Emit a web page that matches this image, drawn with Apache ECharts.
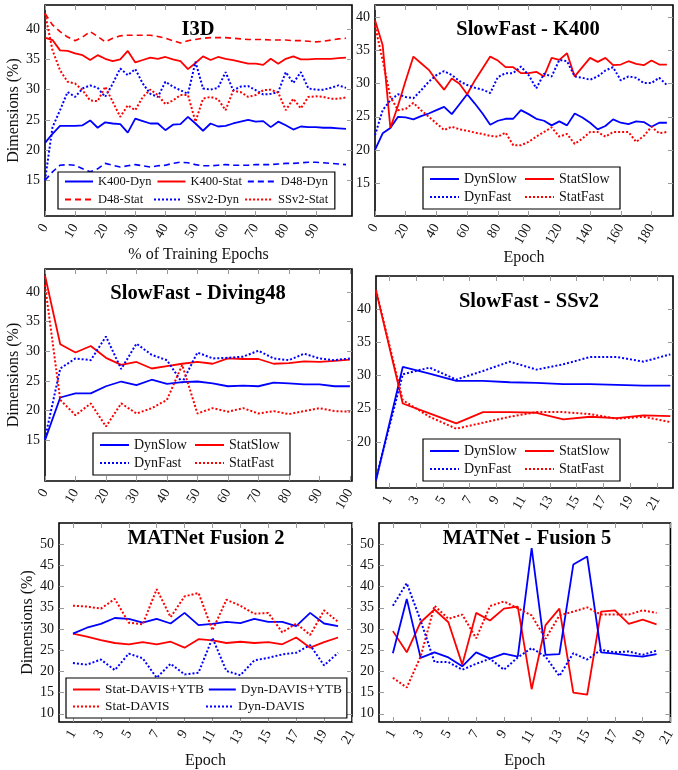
<!DOCTYPE html>
<html>
<head>
<meta charset="utf-8">
<script src="https://cdn.jsdelivr.net/npm/echarts@6/dist/echarts.min.js"></script>
<style>
  html, body { margin: 0; padding: 0; background: #fff; }
  #chart { width: 678px; height: 770px; }
</style>
</head>
<body>
<div id="chart"></div>
<script>
// ---- data ----
const i3dEpochs = [0, 2.5, 5, 7.5, 10, 12.5, 15, 17.5, 20, 22.5, 25, 27.5, 30, 32.5, 35, 37.5, 40, 42.5, 45, 47.5,
  50, 52.5, 55, 57.5, 60, 62.5, 65, 67.5, 70, 72.5, 75, 77.5, 80, 82.5, 85, 87.5, 90, 92.5, 95, 97.5, 100];
const i3dK400Dyn = [21.2, 22.7, 24.0, 24.0, 24.0, 24.1, 24.9, 23.7, 24.6, 24.4, 24.3, 22.9, 25.2, 24.8, 24.4, 24.4, 23.3, 24.2, 24.3, 25.5,
  24.4, 23.2, 24.4, 23.9, 24.0, 24.4, 24.7, 25.0, 24.7, 24.8, 23.8, 24.7, 24.1, 23.4, 23.9, 23.8, 23.8, 23.7, 23.7, 23.6, 23.5];
const i3dK400Stat = [38.6, 38.2, 36.5, 36.4, 36.0, 35.7, 34.9, 35.7, 35.1, 34.7, 35.0, 36.4, 34.5, 34.9, 35.3, 35.1, 35.4, 35.0, 34.7, 33.4,
  34.4, 35.5, 34.9, 35.4, 35.1, 34.9, 34.6, 34.3, 34.3, 34.1, 35.1, 34.3, 35.1, 35.5, 35.0, 35.0, 35.1, 35.1, 35.1, 35.2, 35.3];
const i3dD48Dyn = [15.0, 16.4, 17.5, 17.6, 17.5, 16.9, 16.4, 16.9, 17.8, 17.5, 17.2, 17.4, 17.6, 17.4, 17.2, 17.4, 17.5, 17.8, 18.0, 17.9,
  17.6, 17.4, 17.4, 17.5, 17.6, 17.5, 17.5, 17.5, 17.6, 17.6, 17.6, 17.7, 17.8, 17.8, 17.9, 18.0, 18.0, 17.9, 17.8, 17.7, 17.6];
const i3dD48Stat = [42.6, 40.7, 39.6, 38.7, 38.1, 38.7, 39.6, 38.8, 37.9, 38.5, 38.9, 39.0, 39.0, 39.0, 39.0, 38.8, 38.5, 38.1, 37.7, 38.1,
  38.3, 38.5, 38.6, 38.6, 38.6, 38.5, 38.4, 38.3, 38.3, 38.3, 38.2, 38.2, 38.2, 38.1, 38.1, 38.0, 37.9, 38.0, 38.2, 38.4, 38.5];
const i3dSSv2Dyn = [15.0, 23.8, 26.6, 29.6, 28.8, 30.2, 30.7, 30.3, 28.8, 31.0, 33.5, 32.4, 33.4, 31.0, 29.3, 28.8, 31.3, 30.5, 29.9, 29.3,
  34.6, 30.2, 30.0, 30.3, 32.9, 29.9, 30.5, 30.6, 29.9, 29.2, 29.3, 29.6, 32.9, 31.1, 32.9, 30.2, 30.0, 30.0, 30.3, 30.7, 30.3];
const i3dSSv2Stat = [42.6, 36.5, 33.2, 31.3, 31.0, 29.9, 28.2, 28.1, 30.5, 28.0, 25.5, 27.4, 26.6, 28.8, 30.0, 29.1, 27.6, 28.2, 29.1, 29.1,
  24.7, 28.5, 28.8, 28.4, 26.6, 29.8, 29.6, 28.8, 29.1, 29.9, 30.0, 29.5, 26.6, 28.5, 26.9, 28.8, 28.9, 28.8, 28.5, 28.5, 28.7];

const k400Epochs = [0, 5, 10, 15, 20, 25, 30, 35, 40, 45, 50, 55, 60, 65, 70, 75, 80, 85, 90, 95,
  100, 105, 110, 115, 120, 125, 130, 135, 140, 145, 150, 155, 160, 165, 170, 175, 180, 185, 190];
const k400DynSlow = [20.0, 22.5, 23.3, 25.0, 24.9, 24.6, 25.1, 25.5, 26.0, 26.5, 25.4, 26.9, 28.4, 27.0, 25.5, 23.8, 24.4, 24.7, 24.7, 26.0,
  25.4, 24.7, 24.4, 23.7, 24.3, 23.7, 25.5, 24.9, 24.1, 23.1, 23.6, 24.6, 24.1, 23.9, 24.3, 24.2, 23.5, 24.1, 24.1];
const k400StatSlow = [39.6, 35.8, 23.3, 26.7, 30.5, 34.1, 33.1, 32.1, 30.5, 29.1, 30.8, 30.0, 28.4, 30.5, 32.3, 34.1, 33.5, 32.5, 32.5, 31.6,
  31.6, 31.8, 31.1, 33.9, 33.6, 34.6, 31.1, 32.5, 33.9, 33.3, 33.9, 32.8, 32.9, 33.4, 33.0, 32.8, 33.5, 32.9, 32.9];
const k400DynFast = [22.2, 26.0, 27.5, 28.4, 28.0, 27.8, 29.0, 30.3, 31.3, 31.9, 31.3, 30.4, 29.8, 29.4, 29.1, 28.6, 31.0, 31.6, 31.6, 32.6,
  31.3, 29.3, 31.5, 31.1, 33.6, 33.4, 31.1, 30.9, 30.6, 31.1, 32.0, 32.5, 30.5, 31.1, 30.9, 30.1, 30.1, 30.9, 29.8];
const k400StatFast = [38.8, 33.5, 28.0, 26.0, 26.2, 27.1, 26.0, 25.0, 24.0, 23.0, 23.5, 23.1, 22.9, 22.6, 22.4, 22.1, 22.0, 22.6, 20.7, 20.7,
  21.2, 22.0, 22.7, 23.4, 22.0, 22.4, 20.9, 21.7, 22.7, 22.7, 22.0, 22.7, 22.7, 22.7, 21.2, 22.1, 23.5, 22.5, 22.7];

const d48Epochs = [0, 5, 10, 15, 20, 25, 30, 35, 40, 45, 50, 55, 60, 65, 70, 75, 80, 85, 90, 95, 100];
const d48DynSlow = [15.0, 22.2, 22.9, 22.9, 24.1, 24.9, 24.3, 25.2, 24.5, 24.8, 24.9, 24.6, 24.1, 24.2, 24.1, 24.7, 24.6, 24.4, 24.4, 24.1, 24.1];
const d48StatSlow = [42.8, 31.2, 29.8, 30.9, 28.9, 27.7, 28.2, 27.1, 27.5, 27.9, 28.2, 27.9, 28.8, 28.7, 28.7, 27.9, 28.0, 28.3, 28.2, 28.4, 28.6];
const d48DynFast = [15.3, 27.1, 28.8, 28.5, 32.5, 27.0, 31.3, 29.4, 28.5, 24.7, 29.8, 28.8, 28.9, 29.1, 30.1, 28.8, 28.5, 29.6, 28.8, 28.5, 28.8];
const d48StatFast = [41.2, 21.8, 19.2, 21.2, 17.3, 21.2, 19.5, 20.4, 21.8, 27.7, 19.5, 20.4, 19.8, 20.4, 19.5, 19.9, 19.4, 19.9, 20.4, 19.9, 19.8];

const ssEpochs = [0, 2, 4, 6, 8, 10, 12, 14, 16, 18, 20, 22];
const ssDynSlow = [14.2, 31.3, 30.3, 29.2, 29.2, 29.0, 28.9, 28.7, 28.7, 28.6, 28.5, 28.5];
const ssStatSlow = [42.8, 25.8, 24.3, 22.8, 24.5, 24.5, 24.4, 23.4, 23.8, 23.6, 24.0, 23.9];
const ssDynFast = [14.5, 30.2, 31.2, 29.4, 30.7, 32.1, 30.9, 31.7, 32.8, 32.8, 32.1, 33.2];
const ssStatFast = [42.9, 26.3, 23.8, 22.0, 22.9, 23.8, 24.5, 24.5, 24.2, 23.5, 23.8, 23.0];

const matEpochs = [1, 2, 3, 4, 5, 6, 7, 8, 9, 10, 11, 12, 13, 14, 15, 16, 17, 18, 19, 20];
const f2StatDY = [28.9, 28.2, 27.4, 26.7, 26.4, 26.9, 26.4, 27.0, 25.6, 27.6, 27.3, 26.7, 27.0, 26.7, 26.9, 26.4, 28.0, 25.6, 26.9, 28.0];
const f2DynDY = [28.9, 30.3, 31.2, 32.6, 32.4, 31.5, 32.4, 31.3, 33.8, 30.9, 31.2, 31.7, 31.4, 32.4, 31.7, 31.7, 30.7, 33.8, 31.3, 30.7];
const f2StatD = [35.5, 35.3, 34.8, 37.1, 31.5, 31.1, 39.4, 32.8, 37.7, 38.5, 29.7, 36.9, 35.5, 33.6, 33.8, 29.2, 31.3, 28.6, 34.4, 31.7];
const f2DynD = [22.0, 21.6, 22.8, 20.3, 24.2, 23.1, 18.5, 21.8, 19.3, 19.7, 27.9, 20.1, 19.1, 22.6, 23.2, 24.0, 24.4, 26.2, 21.4, 24.4];
const f5StatDY = [29.5, 24.5, 31.6, 34.6, 31.6, 21.6, 33.8, 32.0, 34.8, 35.3, 15.8, 30.9, 34.8, 15.0, 14.5, 34.1, 34.4, 31.2, 32.2, 31.1];
const f5DynDY = [24.3, 37.1, 23.2, 24.5, 23.3, 21.2, 24.5, 23.0, 24.2, 23.5, 49.1, 23.9, 24.1, 45.2, 47.1, 24.5, 24.2, 23.8, 23.5, 24.1];
const f5StatD = [18.5, 16.2, 23.5, 35.5, 32.4, 33.4, 27.8, 35.4, 36.5, 34.9, 33.2, 27.7, 33.2, 34.1, 35.1, 33.4, 33.4, 33.4, 34.4, 33.8];
const f5DynD = [35.5, 40.8, 32.0, 22.2, 22.2, 20.4, 21.8, 23.0, 20.4, 23.3, 25.5, 23.5, 18.9, 24.3, 22.8, 25.1, 24.5, 24.7, 23.9, 24.9];

// tick labels
const i3dXTicks = [0, 10, 20, 30, 40, 50, 60, 70, 80, 90];
const k400XTicks = [0, 20, 40, 60, 80, 100, 120, 140, 160, 180];
const d48XTicks = [0, 10, 20, 30, 40, 50, 60, 70, 80, 90, 100];
const oddXTicks = [1, 3, 5, 7, 9, 11, 13, 15, 17, 19, 21];
const yTicks15 = [15, 20, 25, 30, 35, 40];
const yTicks20 = [20, 25, 30, 35, 40];
const yTicks10 = [10, 15, 20, 25, 30, 35, 40, 45, 50];

// ---- styles ----
const FONT = 'Liberation Serif';
const BLUE = '#0000ff', RED = '#ff0000';
const SOLID = { type: 'solid', width: 1.8 };
const DASHED = { type: [6, 4], width: 1.6 };
const DOTTED = { type: [2, 2], width: 2 };

function pairs(xs, ys) { return xs.map((x, i) => [x, ys[i]]); }

const panels = [
  {
    title: 'I3D', titlePos: [198, 30],
    box: [45, 5, 307, 211], x: [0, 102], y: [9.1, 44], xTicks: i3dXTicks, yTicks: yTicks15,
    xName: '% of Training Epochs', yName: 'Dimensions (%)',
    lines: [
      ['K400-Dyn', i3dEpochs, i3dK400Dyn, BLUE, SOLID],
      ['K400-Stat', i3dEpochs, i3dK400Stat, RED, SOLID],
      ['D48-Dyn', i3dEpochs, i3dD48Dyn, BLUE, DASHED],
      ['D48-Stat', i3dEpochs, i3dD48Stat, RED, DASHED],
      ['SSv2-Dyn', i3dEpochs, i3dSSv2Dyn, BLUE, DOTTED],
      ['SSv2-Stat', i3dEpochs, i3dSSv2Stat, RED, DOTTED]
    ],
    legend: { left: 58, top: 172, itemWidth: 28, itemHeight: 12, itemGap: 5, textWidth: 50, fontSize: 12.5, width: 270, padding: [3, 4, 3, 6] }
  },
  {
    title: 'SlowFast - K400', titlePos: [528, 30],
    box: [375, 5, 298, 211], x: [0, 194], y: [10, 41.9], xTicks: k400XTicks, yTicks: yTicks15,
    xName: 'Epoch', yName: '',
    lines: [
      ['DynSlow', k400Epochs, k400DynSlow, BLUE, SOLID],
      ['StatSlow', k400Epochs, k400StatSlow, RED, SOLID],
      ['DynFast', k400Epochs, k400DynFast, BLUE, DOTTED],
      ['StatFast', k400Epochs, k400StatFast, RED, DOTTED]
    ],
    legend: { left: 423, top: 167, itemWidth: 29, itemHeight: 13, itemGap: 4, textWidth: 56, fontSize: 14, width: 200, padding: [5, 5, 5, 6] }
  },
  {
    title: 'SlowFast - Diving48', titlePos: [198, 294],
    box: [45, 269, 307, 212], x: [0, 100.7], y: [8.1, 43.9], xTicks: d48XTicks, yTicks: yTicks15,
    xName: '', yName: 'Dimensions (%)',
    lines: [
      ['DynSlow', d48Epochs, d48DynSlow, BLUE, SOLID],
      ['StatSlow', d48Epochs, d48StatSlow, RED, SOLID],
      ['DynFast', d48Epochs, d48DynFast, BLUE, DOTTED],
      ['StatFast', d48Epochs, d48StatFast, RED, DOTTED]
    ],
    legend: { left: 93, top: 433, itemWidth: 29, itemHeight: 13, itemGap: 4, textWidth: 56, fontSize: 14, width: 200, padding: [5, 5, 5, 6] }
  },
  {
    title: 'SlowFast - SSv2', titlePos: [529, 302],
    box: [376, 276, 297, 212], x: [0, 22.2], y: [13.07, 45], xTicks: oddXTicks, yTicks: yTicks20,
    xName: '', yName: '',
    lines: [
      ['DynSlow', ssEpochs, ssDynSlow, BLUE, SOLID],
      ['StatSlow', ssEpochs, ssStatSlow, RED, SOLID],
      ['DynFast', ssEpochs, ssDynFast, BLUE, DOTTED],
      ['StatFast', ssEpochs, ssStatFast, RED, DOTTED]
    ],
    legend: { left: 423, top: 439, itemWidth: 29, itemHeight: 13, itemGap: 4, textWidth: 56, fontSize: 14, width: 200, padding: [5, 5, 5, 6] }
  },
  {
    title: 'MATNet Fusion 2', titlePos: [206, 539],
    box: [59, 523, 293, 202], x: [0, 21], y: [8.07, 55], xTicks: oddXTicks, yTicks: yTicks10,
    xName: 'Epoch', yName: 'Dimensions (%)',
    lines: [
      ['Stat-DAVIS+YTB', matEpochs, f2StatDY, RED, SOLID],
      ['Dyn-DAVIS+YTB', matEpochs, f2DynDY, BLUE, SOLID],
      ['Stat-DAVIS', matEpochs, f2StatD, RED, DOTTED],
      ['Dyn-DAVIS', matEpochs, f2DynD, BLUE, DOTTED]
    ],
    legend: { left: 66, top: 678, itemWidth: 27, itemHeight: 13, itemGap: 4, textWidth: 96, fontSize: 13.4, width: 300, padding: [5, 5, 5, 6] }
  },
  {
    title: 'MATNet - Fusion 5', titlePos: [527, 539],
    box: [379, 523, 294, 202], x: [0, 21], y: [8.07, 55], xTicks: oddXTicks, yTicks: yTicks10,
    xName: 'Epoch', yName: '',
    lines: [
      ['Stat-DAVIS+YTB', matEpochs, f5StatDY, RED, SOLID],
      ['Dyn-DAVIS+YTB', matEpochs, f5DynDY, BLUE, SOLID],
      ['Stat-DAVIS', matEpochs, f5StatD, RED, DOTTED],
      ['Dyn-DAVIS', matEpochs, f5DynD, BLUE, DOTTED]
    ],
    legend: null
  }
];

const option = {
  backgroundColor: '#fff',
  animation: false,
  title: [], grid: [], xAxis: [], yAxis: [], legend: [], series: []
};

// pgfplots-style ticks pointing into the plot box, on all four sides
function tick(values) {
  return { show: true, inside: true, length: 5, customValues: values, lineStyle: { color: '#999', width: 1 } };
}
const noLine = { show: false, onZero: false };

panels.forEach((p, i) => {
  option.grid.push({
    left: p.box[0], top: p.box[1], width: p.box[2], height: p.box[3],
    show: true, borderColor: '#000', borderWidth: 1.6, backgroundColor: 'transparent'
  });
  option.title.push({
    text: p.title, left: p.titlePos[0], top: p.titlePos[1] - 11, textAlign: 'center', padding: 0,
    textStyle: { fontFamily: FONT, fontSize: 20.5, fontWeight: 'bold', color: '#000', lineHeight: 22 }
  });
  // bottom + mirrored top x axis
  option.xAxis.push({
    gridIndex: i, type: 'value', min: p.x[0], max: p.x[1], position: 'bottom',
    axisLine: noLine, splitLine: { show: false },
    axisTick: tick(p.xTicks),
    axisLabel: { customValues: p.xTicks, rotate: 60, margin: 9, padding: [8, 0, 0, 0], fontFamily: FONT, fontSize: 14, color: '#111' },
    name: p.xName, nameLocation: 'middle', nameGap: 31,
    nameTextStyle: { fontFamily: FONT, fontSize: 16, color: '#111' }
  });
  option.xAxis.push({
    gridIndex: i, type: 'value', min: p.x[0], max: p.x[1], position: 'top',
    axisLine: noLine, splitLine: { show: false }, axisLabel: { show: false },
    axisTick: tick(p.xTicks)
  });
  // left + mirrored right y axis
  option.yAxis.push({
    gridIndex: i, type: 'value', min: p.y[0], max: p.y[1], position: 'left',
    axisLine: noLine, splitLine: { show: false },
    axisTick: tick(p.yTicks),
    axisLabel: { customValues: p.yTicks, margin: 5, fontFamily: FONT, fontSize: 14, color: '#111' },
    name: p.yName, nameLocation: 'middle', nameGap: 19,
    nameTextStyle: { fontFamily: FONT, fontSize: 16, color: '#111' }
  });
  option.yAxis.push({
    gridIndex: i, type: 'value', min: p.y[0], max: p.y[1], position: 'right',
    axisLine: noLine, splitLine: { show: false }, axisLabel: { show: false },
    axisTick: tick(p.yTicks)
  });

  p.lines.forEach(([name, xs, ys, color, style]) => {
    option.series.push({
      name: name, type: 'line', xAxisIndex: 2 * i, yAxisIndex: 2 * i,
      data: pairs(xs, ys), symbol: 'none', showSymbol: false, z: 3,
      itemStyle: { color: color },
      lineStyle: Object.assign({ color: color }, style)
    });
  });

  if (p.legend) {
    const L = p.legend;
    option.legend.push({
      data: p.lines.map(l => l[0]),
      left: L.left, top: L.top, width: L.width, orient: 'horizontal',
      itemWidth: L.itemWidth, itemHeight: L.itemHeight, itemGap: L.itemGap,
      itemStyle: { opacity: 0 },
      padding: L.padding, borderColor: '#000', borderWidth: 1.2, backgroundColor: '#fff',
      selectedMode: false, z: 5,
      textStyle: { fontFamily: FONT, fontSize: L.fontSize, color: '#111', width: L.textWidth, lineHeight: L.itemHeight }
    });
  }
});

const chart = echarts.init(document.getElementById('chart'), null, { renderer: 'canvas' });
chart.setOption(option);
</script>
</body>
</html>
